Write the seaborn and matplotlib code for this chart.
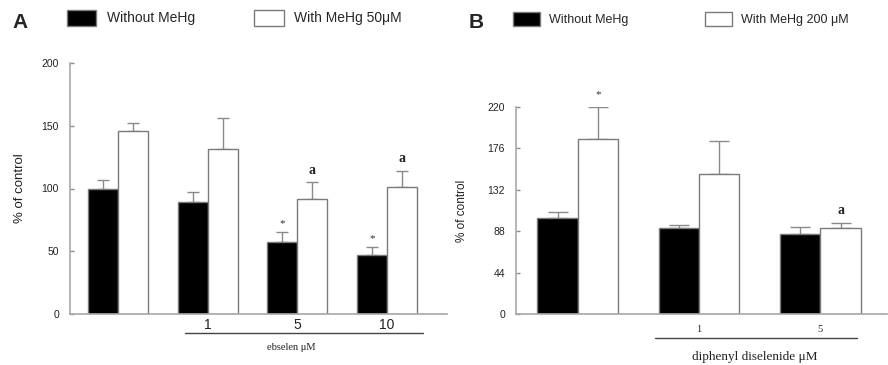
import numpy as np
import pandas as pd
import matplotlib
matplotlib.use("Agg")
import matplotlib.pyplot as plt
import matplotlib.transforms as mtransforms
from matplotlib.container import BarContainer
import seaborn as sns

# ---------------- data ----------------
doses_a = ["control", "1", "5", "10"]
ticklabels_a = ["", "1", "5", "10"]
without_a = [100, 89.5, 57.5, 47]
without_a_err = [7, 8, 7.5, 6]
with_a = [145.5, 131.5, 91.5, 101.5]
with_a_err = [7, 25, 13.5, 12.5]
marks_without_a = ["", "", "*", "*"]
marks_with_a = ["", "", "a", "a"]

doses_b = ["control", "1", "5"]
ticklabels_b = ["", "1", "5"]
without_b = [101.5, 91.5, 85]
without_b_err = [7, 3, 7.5]
with_b = [186.5, 149, 91.5]
with_b_err = [33, 35, 5.5]
marks_without_b = ["", "", ""]
marks_with_b = ["*", "", "a"]

series_a = ["Without MeHg", "With MeHg 50μM"]
series_b = ["Without MeHg", "With MeHg 200 μM"]
yticks_a = [0, 50, 100, 150, 200]
yticks_b = [0, 44, 88, 132, 176, 220]
xlabel_a = "ebselen μM"
xlabel_b = "diphenyl diselenide μM"

sns.set_theme(style="white")
plt.rcParams["font.family"] = ["Liberation Sans", "DejaVu Sans"]

GRAY = "#8a8a8a"
EDGE = "#7a7a7a"

fig = plt.figure(figsize=(8.88, 3.65), dpi=100)
W, H = 888, 365
axA = fig.add_axes([70 / W, 1 - 314 / H, 377 / W, 251 / H])
axB = fig.add_axes([516 / W, 1 - 314 / H, 371 / W, 207 / H])


def bar_containers(ax):
    return [c for c in ax.containers if isinstance(c, BarContainer)]


def panel(ax, doses, ticklabels, series, without, without_err, withv, with_err,
          marks_wo, marks_w, yticks, xlim, capsize, tick_fs, tick_font,
          tick_pad, xlabel, line_span, xlabel_x, xlabel_fs, xlabel_y, line_y,
          ylab_fs, ylab_x, star_off):
    df = pd.DataFrame({
        "dose": doses * 2,
        "value": list(without) + list(withv),
        "cond": [series[0]] * len(doses) + [series[1]] * len(doses),
    })
    sns.barplot(data=df, x="dose", y="value", hue="cond", order=doses,
                hue_order=series, palette={series[0]: "black", series[1]: "white"},
                edgecolor=EDGE, linewidth=1.0, width=2 / 3, gap=0,
                errorbar=None, ax=ax, legend=False)
    conts = bar_containers(ax)
    for cont, vals, errs, marks in zip(conts, [without, withv],
                                       [without_err, with_err], [marks_wo, marks_w]):
        xs = [p.get_x() + p.get_width() / 2 for p in cont.patches]
        ax.errorbar(xs, vals, yerr=[np.zeros(len(errs)), errs], fmt="none",
                    ecolor=GRAY, elinewidth=1.0, capsize=capsize, capthick=1.0,
                    zorder=0)
        for x, v, e, m in zip(xs, vals, errs, marks):
            if m:
                if m == "*":
                    ax.annotate(m, (x, v + e), xytext=(0, star_off),
                                textcoords="offset points",
                                ha="center", va="bottom", fontsize=8, color="#333333",
                                family="Liberation Serif")
                else:
                    ax.annotate(m, (x, v + e), xytext=(0, 4), textcoords="offset points",
                                ha="center", va="bottom", fontsize=10, color="#222222",
                                family="Liberation Serif", weight="bold")
    ax.set_ylim(yticks[0], yticks[-1])
    ax.set_yticks(yticks)
    ax.set_yticklabels([str(t) for t in yticks], fontsize=7.5, color="#222222")
    ax.set_xlim(*xlim)
    ax.set_xticks(range(len(doses)))
    ax.set_xticklabels(ticklabels, fontsize=tick_fs, family=tick_font, color="#222222")
    ax.tick_params(axis="x", length=0, pad=tick_pad)
    ax.tick_params(axis="y", direction="in", length=3, width=1, color=GRAY,
                   left=True, pad=8)
    ax.set_xlabel("")
    ax.set_ylabel("% of control", fontsize=ylab_fs, color="#222222")
    ax.yaxis.set_label_coords(ylab_x, 0.5)
    for s in ["top", "right"]:
        ax.spines[s].set_visible(False)
    for s in ["left", "bottom"]:
        ax.spines[s].set_color("#a8a8a8")
        ax.spines[s].set_linewidth(1.2)
    trans = mtransforms.blended_transform_factory(ax.transData, ax.transAxes)
    ax.plot(line_span, [line_y, line_y], color="#444444", lw=1.0,
            transform=trans, clip_on=False)
    ax.text(xlabel_x, xlabel_y, xlabel, transform=trans,
            ha="center", va="center", fontsize=xlabel_fs, family="Liberation Serif",
            color="#222222")


panel(axA, doses_a, ticklabels_a, series_a, without_a, without_a_err, with_a,
      with_a_err, marks_without_a, marks_with_a, yticks_a, (-0.533, 3.667), 4.3,
      10, "Liberation Sans", 3, xlabel_a, [0.744, 3.4], 1.93, 7.5, -0.135, -0.075,
      9.5, -0.116, 3)
panel(axB, doses_b, ticklabels_b, series_b, without_b, without_b_err, with_b,
      with_b_err, marks_without_b, marks_with_b, yticks_b, (-0.51, 2.55), 7.2,
      7.5, "Liberation Serif", 8, xlabel_b, [0.636, 2.30], 1.46, 9.5, -0.208,
      -0.115, 8.5, -0.13, 6)

# legends
hA = [c.patches[0] for c in bar_containers(axA)]
fig.legend(hA, series_a, loc="upper left", bbox_to_anchor=(67 / W, 1 - 10 / H),
           ncol=2, frameon=False, fontsize=10, handlelength=2.1, handleheight=1.35,
           handletextpad=0.75, columnspacing=4.3, borderpad=0, borderaxespad=0)
hB = [c.patches[0] for c in bar_containers(axB)]
fig.legend(hB, series_b, loc="upper left", bbox_to_anchor=(513 / W, 1 - 12 / H),
           ncol=2, frameon=False, fontsize=9, handlelength=2.15, handleheight=1.4,
           handletextpad=0.75, columnspacing=6.1, borderpad=0, borderaxespad=0)

fig.text(12 / W, 1 - 22 / H, "A", fontsize=15, weight="bold", va="center")
fig.text(469 / W, 1 - 22 / H, "B", fontsize=15, weight="bold", va="center")

fig.savefig("out.png", dpi=100)
